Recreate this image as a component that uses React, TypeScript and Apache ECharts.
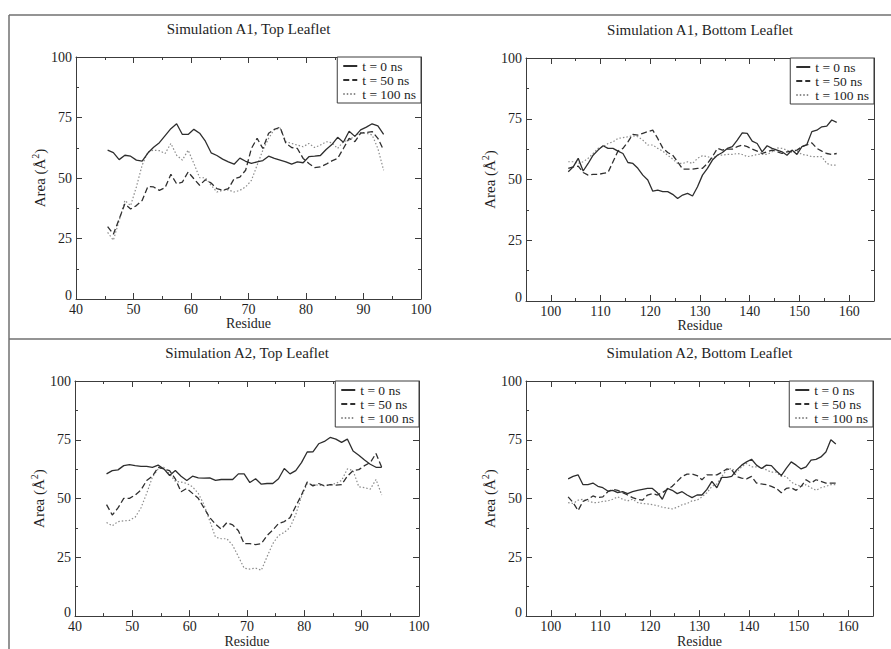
import React, { useEffect, useRef } from "react";
import * as echarts from "echarts";

// Residue positions (left column: residues 46-94, right column: residues 104-158)
const residuesTop = [
  45.5, 46.5, 47.5, 48.5, 49.5, 50.5, 51.5, 52.5, 53.5, 54.5, 55.5, 56.5, 57.5, 58.5, 59.5, 60.5, 61.5,
  62.5, 63.5, 64.5, 65.5, 66.5, 67.5, 68.5, 69.5, 70.5, 71.5, 72.5, 73.5, 74.5, 75.5, 76.5, 77.5, 78.5,
  79.5, 80.5, 81.5, 82.5, 83.5, 84.5, 85.5, 86.5, 87.5, 88.5, 89.5, 90.5, 91.5, 92.5, 93.5,
];
const residuesBottom = [
  103.5, 104.5, 105.5, 106.5, 107.5, 108.5, 109.5, 110.5, 111.5, 112.5, 113.5, 114.5, 115.5, 116.5,
  117.5, 118.5, 119.5, 120.5, 121.5, 122.5, 123.5, 124.5, 125.5, 126.5, 127.5, 128.5, 129.5, 130.5,
  131.5, 132.5, 133.5, 134.5, 135.5, 136.5, 137.5, 138.5, 139.5, 140.5, 141.5, 142.5, 143.5, 144.5,
  145.5, 146.5, 147.5, 148.5, 149.5, 150.5, 151.5, 152.5, 153.5, 154.5, 155.5, 156.5, 157.5,
];

// Simulation A1, top leaflet
const a1TopT0 = [61.5, 60.5, 57.6, 59.4, 59, 57.4, 57, 60.3, 62.7, 64.6, 67.5, 70.4, 72.4, 68, 68, 70.1, 68.5, 65.2, 60.4, 59.3, 57.8, 56.7, 55.7, 58.2, 56.9, 56, 56.7, 57.2, 59, 58.1, 57.4, 56.7, 55.7, 56.7, 56.3, 58.8, 59, 59.3, 61.8, 63.8, 66.8, 64.8, 69.3, 67.2, 69.9, 71, 72.4, 71.5, 68];
const a1TopT50 = [29.9, 26.8, 33, 39.3, 37.2, 38.6, 40.7, 46.5, 46.3, 44.9, 46, 51.5, 47.6, 48.3, 52.5, 49.7, 47, 49.3, 47.9, 45.6, 44.9, 45.6, 49.7, 50.4, 53.2, 62.2, 66.4, 62.2, 68.5, 70.1, 71, 64.3, 62.6, 62.2, 58.1, 56, 54.3, 54.6, 55.7, 57.1, 58.1, 62.2, 66.4, 65, 68.5, 68.8, 69.2, 66.4, 61.5];
const a1TopT100 = [27.5, 24.3, 32.4, 40.7, 38.6, 46.3, 55.3, 60.8, 61.5, 61.3, 60.1, 64.3, 59.4, 57.4, 61.5, 56, 50.1, 50.1, 47, 44.2, 44.9, 45.1, 44.2, 44.9, 46.3, 49, 55.3, 61.5, 66.4, 70.1, 70.6, 65, 64.3, 63.6, 62.9, 64.3, 62.6, 63.6, 65, 64.6, 62.2, 65, 65.7, 67.4, 68.8, 68.5, 67.8, 62.2, 53.2];

// Simulation A1, bottom leaflet
const a1BotT0 = [53.2, 55.2, 58.7, 53.5, 56.6, 60, 62.1, 63.9, 62.8, 62.8, 61.7, 60.7, 57, 56.6, 54.6, 51.8, 49.8, 45.2, 45.6, 45, 45, 43.9, 42.2, 43.6, 44.3, 43.2, 47, 51.8, 54.6, 58, 60, 61.1, 62.8, 63.5, 66.2, 69.2, 69, 65.8, 64.8, 61.4, 63.9, 62.8, 62.1, 61.4, 60, 62.1, 60.3, 63.5, 64.4, 69.7, 70.3, 71.7, 72, 74.5, 73.5];
const a1BotT50 = [54.6, 55.2, 55.5, 52.9, 51.8, 52.1, 52.1, 52.5, 52.9, 57.3, 61.7, 62.8, 65.5, 68.6, 68.3, 69, 69.7, 70.3, 66.9, 63, 61.1, 60, 57.3, 54.3, 54.3, 54.3, 54.6, 54.6, 56.6, 59.4, 62.8, 62.1, 62.5, 62.5, 63.5, 64.2, 63.5, 62.5, 61.7, 60.7, 61.4, 62.1, 61.4, 60.7, 61.4, 61.7, 62.1, 63.5, 64.2, 65.1, 62.8, 61.7, 60.7, 60.3, 60.7];
const a1BotT100 = [57.3, 57.3, 56.6, 57.3, 58.7, 60.7, 62.8, 63.5, 64.8, 65.5, 66.9, 67.2, 67.6, 68, 67.6, 66.2, 64.2, 64.2, 62.8, 61.7, 60, 58.4, 56.6, 56.6, 57.3, 56.6, 58.7, 59.8, 59.4, 58.7, 60, 60, 60.3, 60.3, 60.7, 60.3, 59.4, 59.8, 60.3, 60.3, 60.3, 61.4, 63, 62.8, 62.1, 61.1, 61.7, 60.3, 60, 59.4, 59.4, 59.4, 56.6, 55.9, 55.9];

// Simulation A2, top leaflet
const a2TopT0 = [60.5, 61.9, 62.2, 64, 64.4, 64, 63.7, 63.7, 63.3, 64.2, 62.6, 59.8, 61.9, 59.5, 57.7, 59.5, 58.8, 58.7, 58.8, 57.7, 58.1, 58.1, 58.1, 60.5, 60.5, 56.8, 58.4, 56.1, 56.4, 56.4, 58.4, 62.8, 60.5, 61.9, 65.3, 69.8, 69.9, 73.3, 74.3, 76, 75.3, 73.9, 75.3, 70.2, 68.4, 66.4, 64.6, 63.3, 63.3];
const a2TopT50 = [47.4, 43, 46, 50.1, 50.1, 51.5, 53.6, 57.7, 59.5, 63.3, 62.6, 61.9, 58.4, 52.9, 54.3, 52.2, 50.1, 46, 41.9, 39.1, 37, 39.8, 38.8, 36.3, 30.8, 30.8, 30.4, 30.8, 34.3, 36.6, 39.4, 40.2, 41.9, 46.7, 51.5, 57, 55.4, 56.4, 55.4, 55.9, 55.7, 55.9, 59.5, 61.9, 62.3, 64, 65.3, 69.2, 63.3];
const a2TopT100 = [39.8, 38.4, 40.2, 40.5, 40.7, 42.1, 46, 52.2, 59.1, 62.6, 63.3, 60.5, 57.3, 57, 56.4, 55, 52.2, 47.4, 40.5, 33.6, 32.9, 32.9, 30.1, 25.3, 20.4, 20, 20.4, 19.5, 25.3, 30.8, 34.3, 35.6, 37.7, 43.2, 50.8, 56.4, 55.9, 55.7, 55.4, 55.9, 56.4, 57.7, 62.6, 61.9, 55, 54.6, 54, 58.1, 51.5];

// Simulation A2, bottom leaflet
const a2BotT0 = [58.4, 59.4, 60.1, 55.9, 55.9, 56.6, 55.2, 54.6, 53.2, 53.5, 52.5, 52.9, 52.1, 52.9, 53.5, 53.9, 54.3, 54.3, 52.5, 49.7, 54.3, 53.5, 52.1, 52.9, 51.5, 50.4, 51.5, 51.5, 53.9, 57.3, 54.6, 59, 59, 59.4, 62.2, 64.2, 65.6, 66.7, 64.2, 62.8, 64.2, 64, 61.7, 59.8, 62.8, 65.6, 64.2, 62.6, 63.5, 66.3, 66.7, 67.7, 69.8, 75, 73.2];
const a2BotT50 = [50.7, 48.3, 44.9, 48.8, 49.7, 51.1, 50.4, 50.7, 52.9, 53.9, 53.5, 52.5, 51.5, 50.4, 49.7, 49.3, 51.5, 52.1, 51.5, 52.5, 53.9, 55.2, 57.3, 59.4, 60.4, 60.4, 59.8, 58, 60.1, 60.1, 60.1, 61.2, 62.6, 62.2, 59.4, 58.7, 58.4, 59.4, 56.6, 56.2, 55.9, 55.2, 54.3, 52.5, 54.3, 54.6, 53.5, 55.2, 58, 56.6, 58, 57.3, 56.6, 56.6, 56.6];
const a2BotT100 = [48.3, 47.9, 49.3, 49.7, 49, 48.3, 48.3, 48.8, 49, 49.7, 50.7, 49.7, 49, 49.7, 48.3, 47.9, 47.7, 47.4, 47, 46.3, 46, 45.6, 46.3, 47.4, 47.9, 49, 49.3, 50.7, 52.5, 55.2, 56.2, 59.4, 62.2, 62.8, 61.2, 63.5, 64.9, 63.5, 63.5, 63.1, 62.2, 61.2, 61.2, 59.4, 59.4, 57, 55.9, 55.2, 55.9, 54.6, 53.5, 54.6, 55.2, 55.9, 55.9];

const seriesNames = ["t = 0 ns", "t = 50 ns", "t = 100 ns"];
const titles = [
  "Simulation A1, Top Leaflet",
  "Simulation A1, Bottom Leaflet",
  "Simulation A2, Top Leaflet",
  "Simulation A2, Bottom Leaflet",
];
const topTickLabels = [40, 50, 60, 70, 80, 90, 100];
const bottomTickLabels = [100, 110, 120, 130, 140, 150, 160];
const xAxisName = "Residue";
const yAxisName = "{a|Area (Å}{s|2}{a|)}";

const W = 891;
const H = 649;
const FONT = "'Liberation Serif', 'DejaVu Serif', 'Times New Roman', serif";
const INK = "#1e1e1e";
const AXIS = "#3c3c3c";

interface Panel {
  title: string;
  residues: number[];
  values: number[][];
  left: number;
  top: number;
  width: number;
  height: number;
  xMin: number;
  xMax: number;
  labels: number[];
}

const panels: Panel[] = [
  { title: titles[0], residues: residuesTop, values: [a1TopT0, a1TopT50, a1TopT100], left: 76, top: 57, width: 345, height: 242, xMin: 40, xMax: 100, labels: topTickLabels },
  { title: titles[1], residues: residuesBottom, values: [a1BotT0, a1BotT50, a1BotT100], left: 526, top: 58, width: 348, height: 243, xMin: 95, xMax: 165, labels: bottomTickLabels },
  { title: titles[2], residues: residuesTop, values: [a2TopT0, a2TopT50, a2TopT100], left: 75, top: 381, width: 344, height: 240, xMin: 40, xMax: 100, labels: topTickLabels },
  { title: titles[3], residues: residuesBottom, values: [a2BotT0, a2BotT50, a2BotT100], left: 526, top: 381, width: 347, height: 241, xMin: 95, xMax: 165, labels: bottomTickLabels },
];

const lineStyles = [
  { color: "#2e2e2e", width: 1.3, type: "solid" as const },
  { color: "#303030", width: 1.3, type: [6, 3] },
  { color: "#8c8c8c", width: 1.2, type: [1.5, 2] },
];

const axisLineStyle = { color: AXIS, width: 1 };
const labelStyle = { fontFamily: FONT, fontSize: 14, color: INK };

function xAxisFor(p: Panel, gridIndex: number, position: "bottom" | "top") {
  const shifted = p.xMin % 10 !== 0;
  // Axes starting at 95 count ticks from min: their own ticks are the short
  // half-decade marks, and the decade marks come from the minor ticks.
  return {
    type: "value",
    gridIndex,
    position,
    min: p.xMin,
    max: p.xMax,
    interval: 10,
    axisLine: { show: true, onZero: false, lineStyle: axisLineStyle },
    axisTick: { show: true, inside: true, length: shifted ? 3 : 6, lineStyle: axisLineStyle },
    minorTick: { show: true, splitNumber: 2, length: shifted ? 6 : 3, lineStyle: axisLineStyle },
    splitLine: { show: false },
    minorSplitLine: { show: false },
    axisLabel: {
      show: position === "bottom",
      margin: 3,
      ...labelStyle,
      customValues: p.labels,
    },
    name: position === "bottom" ? xAxisName : "",
    nameLocation: "middle",
    nameGap: 14,
    nameTextStyle: labelStyle,
  };
}

function yAxisFor(gridIndex: number, position: "left" | "right") {
  return {
    type: "value",
    gridIndex,
    position,
    min: 0,
    max: 100,
    interval: 25,
    axisLine: { show: true, onZero: false, lineStyle: axisLineStyle },
    axisTick: { show: true, inside: true, length: 6, lineStyle: axisLineStyle },
    minorTick: { show: true, splitNumber: 2, length: 3, lineStyle: axisLineStyle },
    splitLine: { show: false },
    minorSplitLine: { show: false },
    axisLabel: {
      show: position === "left",
      margin: 4,
      ...labelStyle,
      // the zero label sits a little higher so it clears the first x label
      formatter: (v: number) => (v === 0 ? "{z|0}" : String(v)),
      rich: { z: { ...labelStyle, padding: [0, 0, 7, 0] } },
    },
    name: position === "left" ? yAxisName : "",
    nameLocation: "middle",
    nameRotate: 90,
    nameGap: 26,
    nameTextStyle: {
      ...labelStyle,
      rich: {
        a: { ...labelStyle, fontSize: 15 },
        s: { ...labelStyle, fontSize: 10, padding: [0, 0, 9, 0] },
      },
    },
  };
}

function buildOption() {
  const grid = panels.map((p) => ({ left: p.left, top: p.top, width: p.width, height: p.height, containLabel: false }));
  const xAxis: any[] = [];
  const yAxis: any[] = [];
  const series: any[] = [];
  const legend: any[] = [];
  const graphic: any[] = [];

  panels.forEach((p, i) => {
    xAxis.push(xAxisFor(p, i, "bottom"), xAxisFor(p, i, "top"));
    yAxis.push(yAxisFor(i, "left"), yAxisFor(i, "right"));
    p.values.forEach((vals, k) => {
      series.push({
        type: "line",
        name: seriesNames[k],
        xAxisIndex: 2 * i,
        yAxisIndex: 2 * i,
        data: p.residues.map((r, j) => [r, vals[j]]),
        symbol: "none",
        showSymbol: false,
        lineStyle: lineStyles[k],
        itemStyle: { color: lineStyles[k].color },
        z: 2 + (2 - k),
      });
    });
    legend.push({
      data: seriesNames,
      orient: "vertical",
      right: W - (p.left + p.width),
      top: p.top,
      itemWidth: 14,
      itemHeight: 12,
      itemGap: 0,
      itemTextGap: 8,
      padding: [2, 5, 2, 5],
      backgroundColor: "#ffffff",
      borderColor: AXIS,
      borderWidth: 1,
      selectedMode: false,
      // only the line sample is shown, no marker
      itemStyle: { opacity: 0, borderWidth: 0 },
      textStyle: { ...labelStyle, fontSize: 13.5 },
    });
    graphic.push({
      type: "text",
      x: p.left + p.width / 2,
      y: p.top - 28,
      style: {
        text: p.title,
        fill: INK,
        fontFamily: FONT,
        fontSize: 15,
        align: "center",
        verticalAlign: "middle",
      },
    });
  });

  // Figure frame: top edge, left edge and the rule between the two rows
  const frame = { stroke: "#707070", lineWidth: 1.5 };
  graphic.push(
    { type: "line", shape: { x1: 9, y1: 15, x2: W, y2: 15 }, style: frame },
    { type: "line", shape: { x1: 9, y1: 15, x2: 9, y2: H }, style: frame },
    { type: "line", shape: { x1: 9, y1: 339, x2: W, y2: 339 }, style: frame }
  );

  return {
    animation: false,
    backgroundColor: "#ffffff",
    grid,
    xAxis,
    yAxis,
    series,
    legend,
    graphic,
  };
}

export default function App() {
  const ref = useRef<HTMLDivElement>(null);
  useEffect(() => {
    if (!ref.current) return;
    const chart = echarts.init(ref.current, null, { renderer: "svg" });
    chart.setOption(buildOption() as any);
    return () => chart.dispose();
  }, []);
  return (
    <div
      ref={ref}
      style={{ position: "absolute", left: 0, top: 0, width: W, height: H, background: "#fff" }}
    />
  );
}
